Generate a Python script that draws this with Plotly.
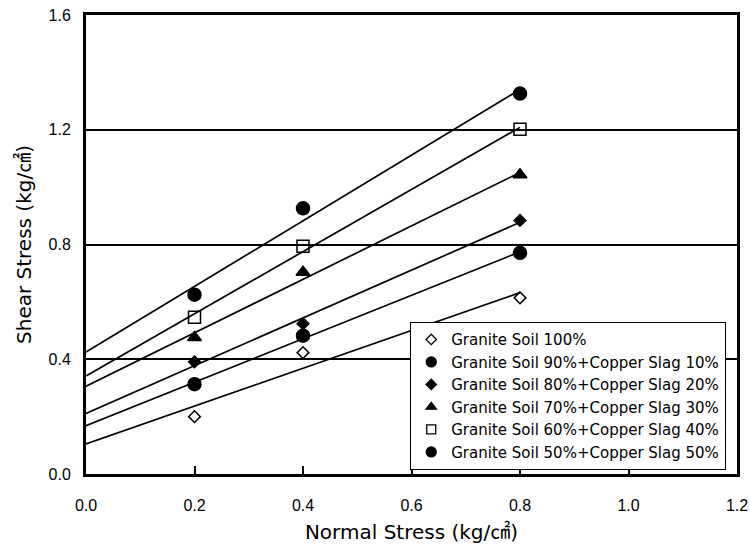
import numpy as np
import plotly.graph_objects as go

normal_stress = [0.2, 0.4, 0.8]
series_names = [
    "Granite Soil 100%",
    "Granite Soil 90%+Copper Slag 10%",
    "Granite Soil 80%+Copper Slag 20%",
    "Granite Soil 70%+Copper Slag 30%",
    "Granite Soil 60%+Copper Slag 40%",
    "Granite Soil 50%+Copper Slag 50%",
]
shear_gs100 = [0.200, 0.423, 0.614]
shear_cs10 = [0.313, 0.482, 0.771]
shear_cs20 = [0.391, 0.524, 0.884]
shear_cs30 = [0.476, 0.703, 1.043]
shear_cs40 = [0.546, 0.794, 1.202]
shear_cs50 = [0.625, 0.926, 1.326]
fit_x = [0.0, 0.8]

series_values = [shear_gs100, shear_cs10, shear_cs20, shear_cs30, shear_cs40, shear_cs50]
symbols = ["diamond-open", "circle", "diamond", "triangle-up", "square-open", "circle"]
sizes = [9, 13, 9, 12, 12, 13]
legend_sizes = [8, 10, 8, 9, 9, 10]

TICK_FONT = "Liberation Sans, Arial, sans-serif"
TITLE_FONT = "DejaVu Sans, Noto Sans CJK KR, sans-serif"

fig = go.Figure()
for name, vals in zip(series_names, series_values):
    slope, icpt = np.polyfit(normal_stress, vals, 1)
    fx = np.array(fit_x)
    fig.add_trace(go.Scatter(x=fx, y=slope * fx + icpt, mode="lines",
                             line=dict(color="black", width=1.7),
                             showlegend=False, hoverinfo="skip"))
for name, vals, sym, sz in zip(series_names, series_values, symbols, sizes):
    fig.add_trace(go.Scatter(x=normal_stress, y=vals, mode="markers",
                             marker=dict(symbol=sym, size=sz, color="black",
                                         line=dict(color="black", width=1.5)),
                             showlegend=False, name=name))
for name, sym, sz in zip(series_names, symbols, legend_sizes):
    fig.add_trace(go.Scatter(x=[None], y=[None], mode="markers", name=name,
                             marker=dict(symbol=sym, size=sz, color="black",
                                         line=dict(color="black", width=1.3))))

fig.update_layout(
    width=750, height=547,
    margin=dict(l=86, r=13, t=15, b=73, autoexpand=False),
    paper_bgcolor="white", plot_bgcolor="white",
    font=dict(family=TICK_FONT, color="black", size=16),
    legend=dict(x=0.983, y=0.009, xanchor="right", yanchor="bottom",
                bordercolor="black", borderwidth=1.3, bgcolor="white",
                font=dict(family="DejaVu Sans, sans-serif", size=15, color="black"),
                tracegroupgap=0, itemwidth=30),
)
fig.update_xaxes(
    range=[0, 1.2], tickvals=[0, 0.2, 0.4, 0.6, 0.8, 1.0, 1.2],
    ticktext=["0.0", "0.2", "0.4", "0.6", "0.8", "1.0", "1.2"],
    showgrid=False, zeroline=False, automargin=False,
    showline=True, linecolor="black", linewidth=3, mirror=True,
    ticks="inside", ticklen=8, tickwidth=1.5, tickcolor="black",
    ticklabelstandoff=15, ticklabeloverflow="allow",
    title=dict(text="Normal Stress (kg/㎠)", font=dict(family=TITLE_FONT, size=20), standoff=12),
)
fig.update_yaxes(
    range=[0, 1.6], tickvals=[0, 0.4, 0.8, 1.2, 1.6],
    ticktext=["0.0", "0.4", "0.8", "1.2", "1.6"],
    showgrid=True, gridcolor="black", gridwidth=1.5, zeroline=False, automargin=False,
    showline=True, linecolor="black", linewidth=3, mirror=True,
    ticks="", ticklabelstandoff=9,
    title=dict(text="Shear Stress (kg/㎠)", font=dict(family=TITLE_FONT, size=20), standoff=12),
)

fig.write_html("out.html")
